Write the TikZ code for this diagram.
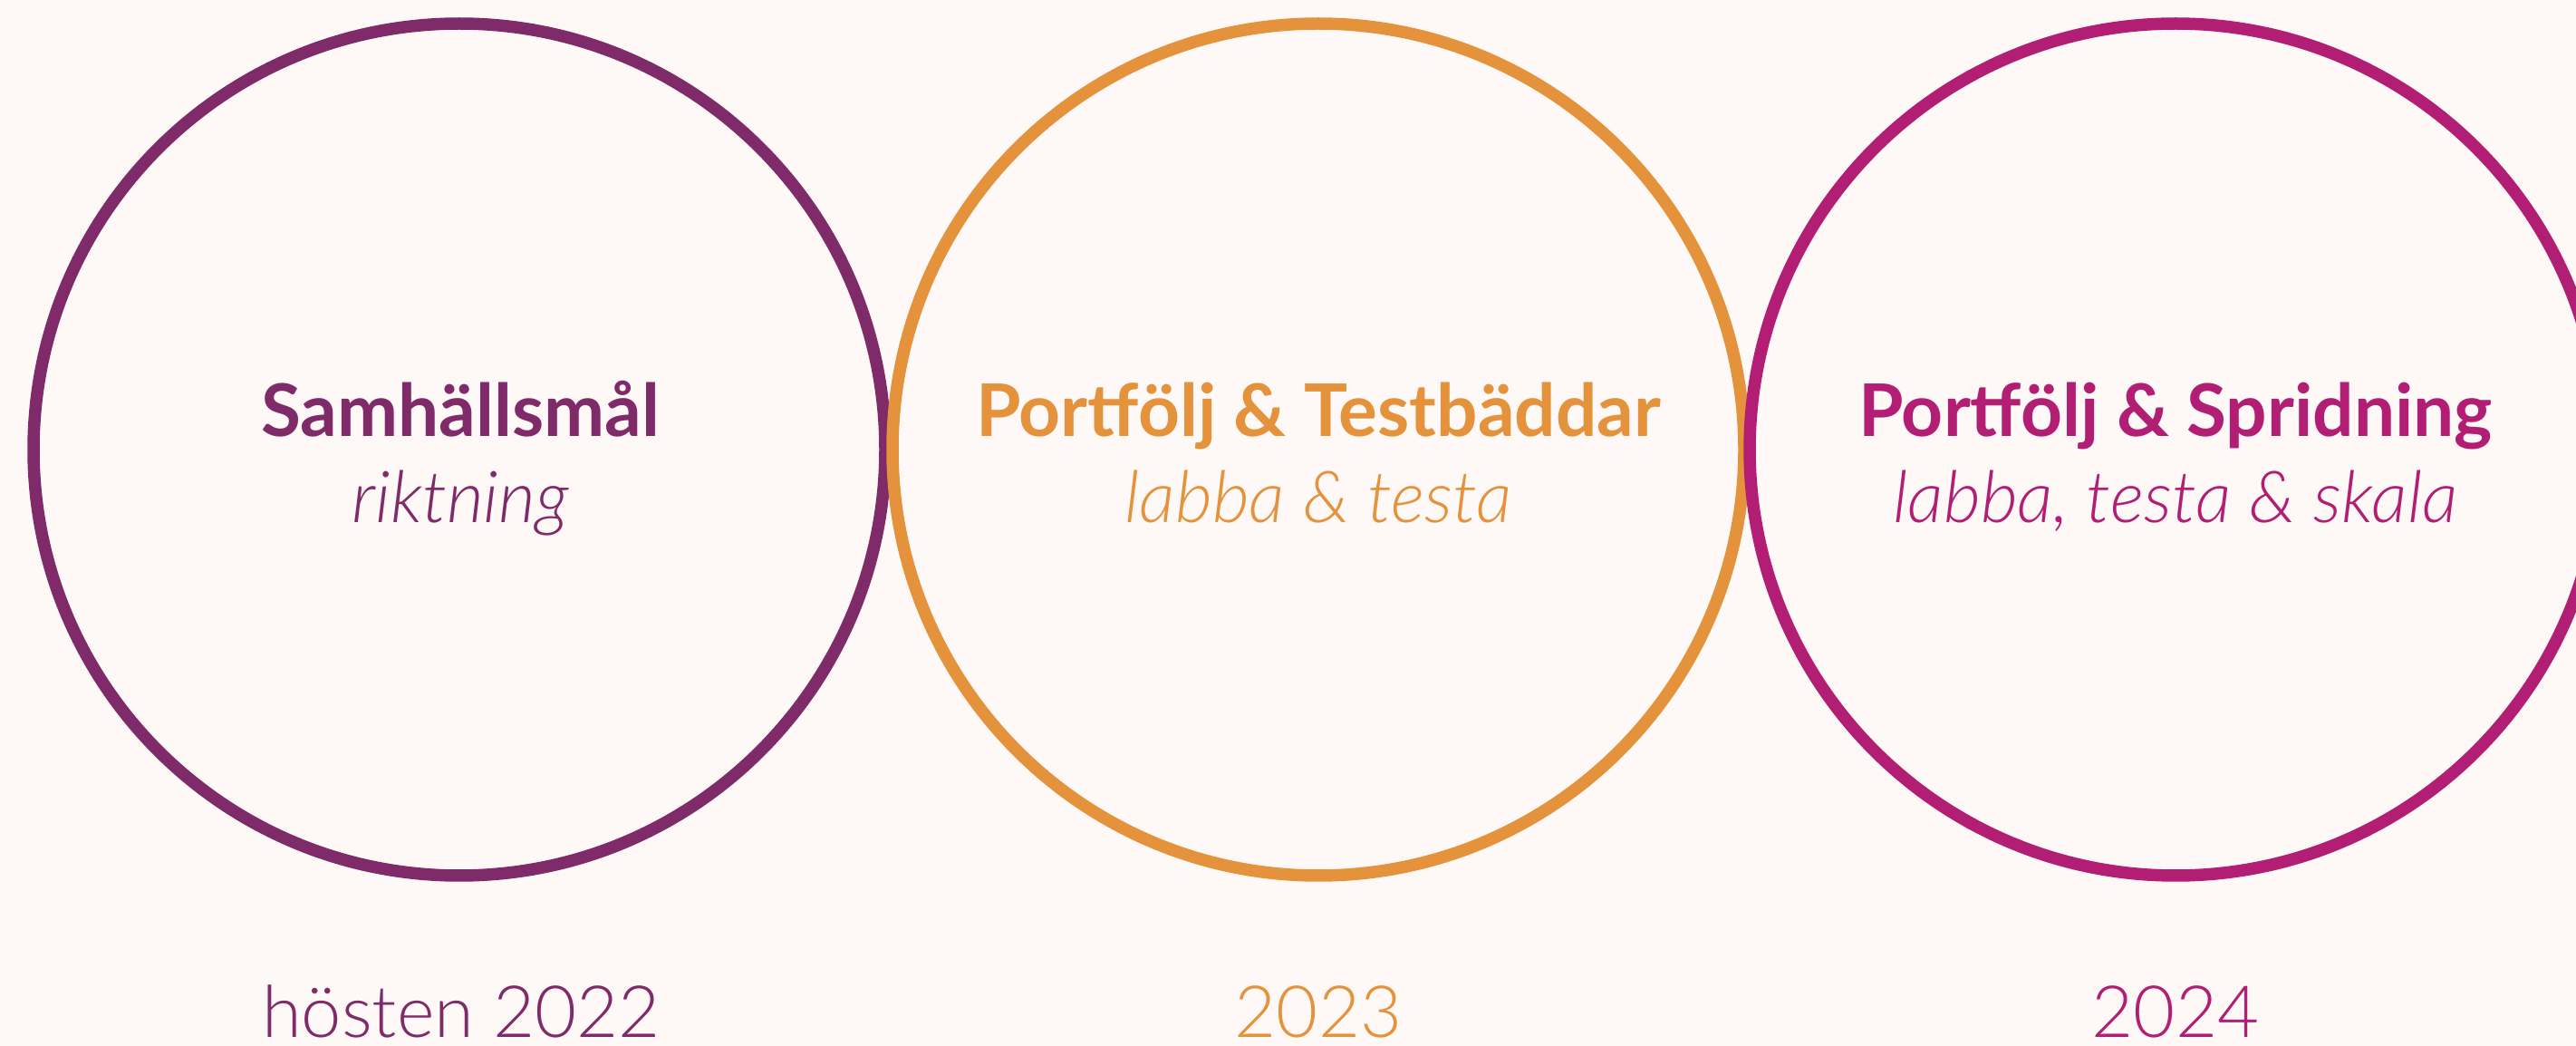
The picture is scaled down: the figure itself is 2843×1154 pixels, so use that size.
\documentclass[tikz,border=0pt]{standalone}
\usepackage{fontspec}
\setmainfont{Lato}[BoldFont={Lato Bold}]
\newfontfamily\latolight{Lato Light}[ItalicFont={Lato Light Italic}]
\usetikzlibrary{positioning}

\definecolor{bgcol}{HTML}{FEF9F6}
\definecolor{purp}{HTML}{7F2A69}
\definecolor{oran}{HTML}{E5923C}
\definecolor{mage}{HTML}{B21E73}

\begin{document}
\begin{tikzpicture}
    [x=0.1mm, y=-0.1mm,
      ring/.style={circle, draw=#1, line width=1.35mm, minimum size=94.0mm, inner sep=0pt},
      goal/.style={anchor=base, inner sep=0pt, text=#1, font=\fontsize{22.8}{27}\selectfont\bfseries},
      motto/.style={anchor=base, inner sep=0pt, text=#1, font=\fontsize{22.5}{27}\selectfont\latolight\itshape},
      year/.style={anchor=base, inner sep=0pt, text=#1, font=\fontsize{22.6}{27}\selectfont\latolight}
    ]
    \fill [bgcol] (0,0) rectangle (2843,1154);
    \useasboundingbox (0,0) rectangle (2843,1154);
    % rings
    \node [ring=purp] (c1) at (507,496) {};
    \node [ring=oran] (c2) at (1455,496) {};
    \node [ring=mage] (c3) at (2401,496) {};
    % texts
    \node [goal=purp] (g1) at (508,482) {Samhällsmål};
    \node [motto=purp] (m1) at (508,577) {riktning};
    \node [goal=oran] (g2) at (1455,482) {Portfölj \& Testbäddar};
    \node [motto=oran] (m2) at (1455,577) {labba \& testa};
    \node [goal=mage] (g3) at (2401,482) {Portfölj \& Spridning};
    \node [motto=mage] (m3) at (2401,577) {labba, testa \& skala};
    % years
    \node [year=purp] (y1) at (509,1144) {hösten 2022};
    \node [year=oran] (y2) at (1455,1144) {2023};
    \node [year=mage] (y3) at (2401,1144) {2024};
  \end{tikzpicture}
\end{document}
